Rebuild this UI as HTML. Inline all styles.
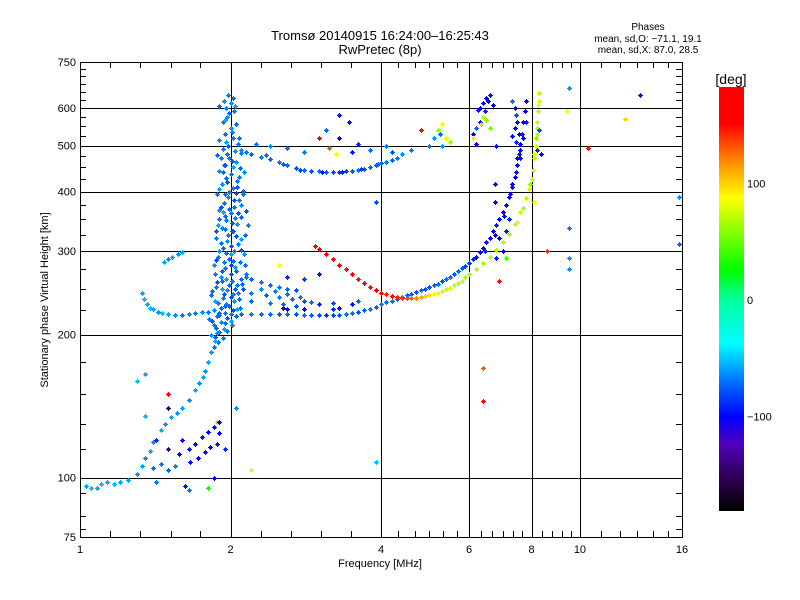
<!DOCTYPE html>
<html><head><meta charset="utf-8"><style>
body{margin:0;background:#fff}
svg{display:block;font-family:"Liberation Sans",sans-serif}
</style></head><body>
<svg id="chart" width="800" height="600" viewBox="0 0 800 600">
<rect width="800" height="600" fill="#fff"/>
<text x="380" y="40" font-size="13" text-anchor="middle">Tromsø 20140915 16:24:00–16:25:43</text>
<text x="380" y="54" font-size="13" text-anchor="middle">RwPretec (8p)</text>
<text x="648" y="30" font-size="10" text-anchor="middle">Phases</text>
<text x="648" y="42" font-size="10" text-anchor="middle">mean, sd,O: −71.1, 19.1</text>
<text x="648" y="53" font-size="10" text-anchor="middle">mean, sd,X:  87.0, 28.5</text>
<text x="380" y="567" font-size="11" text-anchor="middle">Frequency [MHz]</text>
<text transform="translate(48,300) rotate(-90)" font-size="11" text-anchor="middle">Stationary phase Virtual Height [km]</text>
<text x="731" y="84" font-size="14" text-anchor="middle">[deg]</text>
<g id="grid"></g>
<g id="pts"></g>
<g id="axes"></g>
<g id="cbar"></g>
</svg>
<script>
const xTicks=[1,2,4,6,8,10,16];
const yTicks=[75,100,200,300,400,500,600,750];
const xGrid=[2,4,6,8,10];
const yGrid=[100,200,300,400,500,600];
const xMinor=[1.15,1.32,1.52,1.74,2.3,2.64,3.03,3.48,4.33,4.67,5.0,5.33,5.67,6.33,6.67,7.0,7.33,7.67,8.4,8.8,9.2,9.6,11,12,13,14,15];
const yMinor=[78,83,93,115,130,150,175,225,250,275,325,350,375,425,450,475,525,550,575,625,650,675,700,725];
const cbTicks=[100,0,-100];
// traces: [freq MHz, height km, phase deg]
const oTrace=[[1.33,245,-45],[1.34,238,-40],[1.36,232,-45],[1.38,228,-40],[1.4,226,-45],[1.43,223,-50],[1.46,222,-40],[1.5,221,-45],[1.55,220,-50],[1.6,220,-55],[1.65,221,-50],[1.7,222,-55],[1.75,223,-50],[1.8,223,-55],[1.9,222,-60],[2.0,221,-55],[2.1,221,-60],[2.2,221,-55],[2.3,221,-60],[2.4,221,-60],[2.5,221,-65],[2.6,221,-70],[2.7,221,-65],[2.8,220,-70],[2.9,220,-75],[3.0,220,-80],[3.1,220,-85],[3.2,220,-80],[3.3,220,-75],[3.4,221,-70],[3.5,222,-70],[3.6,223,-65],[3.7,225,-60],[3.8,227,-55],[3.9,229,-60],[4.0,232,-55],[4.1,234,-60],[4.2,236,-55],[4.3,238,-60],[4.4,240,-55],[4.5,242,-60],[4.6,244,-60],[4.7,246,-65],[4.8,248,-60],[4.9,250,-65],[5.0,252,-65],[5.1,254,-60],[5.2,256,-70],[5.3,259,-65],[5.4,262,-70],[5.5,265,-70],[5.6,268,-75],[5.7,272,-70],[5.8,276,-75],[5.9,279,-80],[6.0,283,-85],[6.1,288,-90],[6.2,292,-95],[6.3,298,-95],[6.4,305,-100],[6.5,313,-95],[6.6,320,-100],[6.7,330,-100],[6.8,340,-95],[6.9,350,-100],[7.0,362,-105],[7.1,375,-100],[7.2,390,-100],[7.3,410,-95],[7.4,430,-100],[7.5,455,-100],[7.55,480,-95],[7.6,505,-100],[7.65,530,-95],[7.7,560,-100],[7.75,590,-105],[7.8,620,-100],[6.45,300,-90],[6.75,325,-105],[7.05,355,-95],[7.25,395,-105],[7.45,440,-95],[7.6,470,-105],[7.7,520,-100],[7.8,560,-95]];
const xTrace=[[2.95,308,170],[3.0,303,165],[3.1,296,160],[3.2,288,155],[3.3,281,160],[3.4,275,150],[3.5,268,155],[3.6,262,150],[3.7,257,155],[3.8,252,150],[3.9,248,155],[4.0,245,150],[4.1,243,145],[4.2,241,150],[4.3,240,145],[4.4,239,140],[4.5,239,135],[4.6,239,130],[4.7,239,120],[4.8,240,110],[4.9,241,100],[5.0,242,95],[5.1,243,90],[5.2,245,85],[5.3,247,80],[5.4,249,75],[5.5,251,80],[5.6,254,75],[5.7,257,70],[5.8,260,75],[5.9,264,70],[6.0,268,65],[6.2,275,70],[6.4,283,65],[6.6,292,70],[6.8,302,65],[7.0,313,70],[7.2,326,65],[7.4,342,70],[7.6,362,75],[7.8,388,70],[7.9,405,75],[8.0,425,70],[8.05,445,75],[8.1,470,70],[8.15,500,75],[8.2,530,70],[8.22,560,75],[8.25,590,70],[8.28,620,75],[8.3,645,70],[7.5,345,80],[7.7,370,65],[7.95,415,60],[8.1,480,80],[8.2,545,65],[8.25,610,80],[8.15,520,55]];
const upperF=[[2.1,490,-50],[2.15,485,-55],[2.2,480,-60],[2.3,474,-55],[2.4,468,-60],[2.5,462,-55],[2.6,455,-60],[2.7,448,-65],[2.8,445,-60],[2.9,443,-65],[3.0,442,-70],[3.1,441,-75],[3.2,441,-80],[3.3,441,-85],[3.4,442,-80],[3.5,442,-75],[3.6,444,-70],[3.7,447,-65],[3.8,451,-60],[3.9,455,-65],[4.0,459,-60],[4.1,462,-55],[4.2,466,-60],[4.3,472,-55],[4.4,479,-50],[4.6,490,-55],[2.25,505,-55],[2.4,500,-50],[2.6,495,-60],[2.8,485,-55],[3.5,485,-95],[3.6,505,-90],[3.8,490,-60],[4.1,500,-55],[4.2,485,-65],[5.0,500,-55],[5.1,520,-50],[5.2,540,60],[5.3,555,90],[5.4,520,80],[5.5,510,60],[5.3,500,-50],[5.25,530,-60],[4.8,540,150],[3.3,580,-95],[3.3,520,-100],[3.45,560,-95],[3.0,520,165],[3.1,540,-60],[3.15,495,130],[3.25,480,90],[2.35,478,-70],[2.55,458,-75],[2.75,444,-80],[3.05,440,-95],[3.35,440,-90],[3.65,446,-85],[3.95,457,-70]];
const column=[[1.98,640,-55],[2.02,630,-60],[2.0,615,-50],[1.96,600,-55],[1.9,605,-60],[2.03,590,-55],[1.97,575,-50],[1.93,560,-55],[2.05,555,-60],[2.0,545,-50],[1.95,530,-60],[2.02,520,-55],[1.9,515,-50],[2.07,505,-55],[1.98,500,-60],[1.93,492,-55],[2.04,488,-50],[2.1,482,-55],[1.88,478,-60],[1.99,470,-55],[2.05,462,-50],[1.94,455,-55],[2.09,448,-60],[1.9,442,-50],[2.0,436,-55],[1.96,428,-60],[2.06,422,-55],[1.92,415,-50],[2.02,408,-55],[2.12,402,-60],[1.88,396,-55],[1.98,390,-50],[2.08,384,-55],[1.94,378,-60],[2.03,372,-55],[1.9,366,-50],[2.0,360,-55],[2.1,354,-60],[1.96,348,-55],[2.06,342,-50],[1.92,336,-55],[2.01,330,-60],[2.14,325,-70],[1.87,320,-55],[1.97,315,-50],[2.07,310,-55],[1.93,305,-60],[2.03,300,-55],[2.13,296,-50],[1.89,292,-55],[1.99,288,-60],[2.09,284,-55],[1.85,280,-50],[1.95,276,-55],[2.05,272,-60],[2.15,268,-55],[1.91,264,-50],[2.01,260,-55],[2.11,256,-60],[1.87,252,-55],[1.97,248,-50],[2.07,245,-55],[1.83,242,-60],[1.93,239,-55],[2.03,236,-50],[1.89,233,-55],[1.99,230,-60],[2.09,228,-55],[1.85,225,-50],[1.95,222,-55],[2.05,219,-60],[1.81,216,-55],[1.91,213,-50],[2.01,210,-55],[1.87,207,-60],[1.97,204,-55],[1.83,200,-50],[1.93,197,-55],[1.89,193,-60],[1.85,188,-55],[1.95,455,-75],[2.05,398,-80],[1.9,350,-70],[2.0,280,-85],[1.95,230,-75],[2.08,520,-70],[1.97,420,-65],[2.02,330,-65],[1.92,260,-70],[1.94,620,-50],[2.04,605,-45],[1.99,585,-60],[1.95,565,-45],[2.01,535,-55],[1.96,510,-45],[1.91,470,-55],[2.02,450,-45],[2.08,430,-55],[1.9,405,-45],[1.99,400,-55],[2.1,375,-50],[1.93,362,-45],[2.04,352,-55],[1.89,340,-45],[1.98,325,-55],[2.1,318,-45],[1.9,300,-50],[2.0,295,-45],[1.94,285,-55],[2.04,278,-45],[1.86,268,-55],[1.96,262,-45],[2.06,255,-55],[1.92,250,-45],[2.02,243,-55],[1.86,236,-45],[1.96,232,-55],[2.06,226,-45],[1.9,220,-55],[2.0,214,-45],[1.85,210,-55],[1.94,206,-45],[2.12,395,-60],[2.15,365,-65],[2.17,340,-55],[2.13,440,-50]];
const column2=[[1.97,480,-70],[2.01,465,-65],[1.93,440,-70],[2.06,410,-65],[1.95,395,-70],[2.03,385,-75],[1.91,372,-65],[1.99,368,-70],[2.07,360,-65],[1.95,356,-70],[2.01,344,-75],[1.87,330,-65],[1.95,334,-70],[2.05,322,-65],[1.91,312,-70],[2.0,308,-75],[2.1,302,-65],[1.96,297,-70],[1.87,287,-65],[2.02,286,-70],[1.92,272,-75],[2.0,268,-65],[2.1,262,-70],[1.88,258,-65],[1.99,254,-70],[2.04,249,-75],[1.94,244,-65],[1.84,247,-70],[2.0,240,-65],[1.91,228,-70],[2.02,225,-65],[1.88,219,-70],[1.97,217,-75],[1.84,214,-65],[1.9,203,-70],[1.86,198,-65],[1.95,212,-70],[2.08,238,-70],[2.12,250,-65],[2.14,280,-70]];
const lowTrace=[[1.03,96,-45],[1.05,95,-40],[1.08,95,-45],[1.1,97,-40],[1.13,98,-45],[1.17,97,-40],[1.2,98,-45],[1.25,99,-45],[1.3,102,-50],[1.33,106,-45],[1.35,110,-50],[1.38,114,-45],[1.4,119,-50],[1.45,126,-45],[1.48,130,-50],[1.52,134,-45],[1.56,137,-50],[1.6,140,-45],[1.65,146,-50],[1.7,153,-45],[1.73,158,-50],[1.76,163,-45],[1.78,168,-50],[1.8,175,-45],[1.83,184,-50],[1.86,194,-45],[1.88,202,-50],[1.47,285,-45],[1.5,288,-50],[1.53,291,-45],[1.57,295,-50],[1.6,298,-45],[1.35,165,-45],[1.3,160,-40],[1.35,135,-40]];
const lowScatter=[[1.6,120,-100],[1.65,115,-95],[1.7,118,-100],[1.75,122,-95],[1.8,125,-100],[1.85,128,-95],[1.9,124,-100],[1.88,118,-95],[1.82,116,-100],[1.78,113,-95],[1.72,110,-100],[1.66,108,-95],[1.58,112,-100],[1.55,106,-55],[1.5,104,-60],[1.45,107,-55],[1.4,105,-60],[1.42,98,-55],[1.62,96,-95],[1.65,94,-55],[1.5,115,-140],[1.5,150,170],[1.5,140,-150],[1.42,120,-90],[1.85,100,-100],[1.8,95,30],[1.88,131,110],[1.9,131,-100],[2.05,140,-50],[2.2,104,80],[3.9,108,-40],[6.4,170,130],[6.4,145,160],[3.9,380,-80],[2.5,280,90],[1.95,115,-90]];
const hopScatter=[[2.15,265,-55],[2.2,262,-60],[2.3,258,-55],[2.4,255,-60],[2.5,252,-55],[2.6,250,-60],[2.7,248,-65],[2.2,245,-55],[2.35,242,-60],[2.5,240,-55],[2.65,238,-60],[2.8,236,-65],[2.9,234,-70],[2.3,250,-50],[2.45,247,-55],[2.6,243,-60],[2.75,240,-55],[2.2,235,-60],[2.4,233,-55],[2.55,232,-60],[2.7,230,-65],[3.0,232,-90],[3.2,233,-80],[3.3,228,-100],[3.5,232,-95],[3.6,235,-60],[2.6,265,-90],[2.8,262,-85],[3.0,268,-95],[2.55,228,-140],[2.6,226,-95],[2.8,226,-100],[3.2,226,-90],[3.5,222,-55]];
const highScatter=[[6.3,600,-100],[6.4,615,-95],[6.5,630,-100],[6.6,640,-95],[6.45,590,-90],[6.55,620,-100],[6.3,560,-95],[6.2,545,-60],[6.1,530,-100],[6.2,505,-105],[6.35,555,100],[6.4,575,70],[6.5,565,60],[6.6,545,55],[6.1,520,80],[6.25,595,-95],[6.7,610,-100],[6.8,500,-95],[6.75,415,-100],[6.75,380,-100],[7.3,620,-70],[7.4,600,-100],[7.5,560,-95],[7.55,530,-100],[7.45,510,-90],[7.6,490,-105],[7.5,470,-100],[7.3,525,-95],[7.4,545,-100],[7.45,580,-80],[7.3,415,-100],[7.2,350,-90],[7.1,330,-95],[7.0,300,-100],[6.8,290,-95],[6.9,320,-100],[8.3,540,-80],[8.2,490,-90],[8.1,380,90],[8.35,480,-100],[8.6,300,140],[9.5,660,-50],[9.4,590,90],[9.5,335,-55],[9.5,290,-50],[9.5,275,-50],[10.4,495,150],[12.3,570,100],[13.2,640,-110],[15.8,390,-50],[15.8,310,-70],[6.9,260,150],[7.1,290,40]];

function X(f){return 80+150.5*Math.log2(f);}
function Y(h){return 537-475*Math.log10(h/75);}
const stops=[[-180,0,0,0],[-150,50,0,90],[-122,80,0,192],[-100,0,0,255],[-70,0,110,255],[-37,0,255,255],[0,0,255,160],[26,0,255,0],[88,255,255,0],[111,255,170,0],[152,255,0,0],[181,255,0,0]];
function col(p){p=Math.max(-180,Math.min(180,p));for(let i=0;i<stops.length-1;i++){const a=stops[i],b=stops[i+1];if(p>=a[0]&&p<=b[0]){const t=(p-a[0])/(b[0]-a[0]);return`rgb(${Math.round(a[1]+t*(b[1]-a[1]))},${Math.round(a[2]+t*(b[2]-a[2]))},${Math.round(a[3]+t*(b[3]-a[3]))})`;}}return'red';}
// points are drawn slightly darker than the bar (same hue family) to match the dense blue look
function ptCol(p){return col(p<-30&&p>-70?p-12:p);}
const NS='http://www.w3.org/2000/svg';
function mk(tag,attrs,parent){const e=document.createElementNS(NS,tag);for(const k in attrs)e.setAttribute(k,attrs[k]);parent.appendChild(e);return e;}
const grid=document.getElementById('grid'),axes=document.getElementById('axes'),pts=document.getElementById('pts'),cbar=document.getElementById('cbar');
xGrid.forEach(f=>{const x=Math.round(X(f))+0.5;const l=mk('line',{x1:x,x2:x,y1:62,y2:537,stroke:'#000','stroke-width':1},grid);

});
yGrid.forEach(h=>{const y=Math.round(Y(h))+0.5;const l=mk('line',{x1:80,x2:682,y1:y,y2:y,stroke:'#000','stroke-width':1},grid);

});
function drawSet(arr,name){arr.forEach(d=>{const x=Math.round(X(d[0])),y=Math.round(Y(d[1]));const p=mk('path',{d:`M${x-2} ${y}h5v1h-5zM${x} ${y-2}h1v5h-1zM${x-1} ${y-1}h3v3h-3z`,fill:ptCol(d[2]),'shape-rendering':'crispEdges'},pts);

});}
drawSet(column,'column-echo');drawSet(column2,'column-echo');drawSet(lowTrace,'low-trace-echo');drawSet(lowScatter,'low-scatter-echo');drawSet(hopScatter,'hop-scatter-echo');drawSet(upperF,'upper-f-echo');drawSet(oTrace,'o-trace-echo');drawSet(xTrace,'x-trace-echo');drawSet(highScatter,'high-scatter-echo');
const frame=mk('rect',{x:80.5,y:62.5,width:602,height:475,fill:'none',stroke:'#000','stroke-width':1},axes);


xMinor.forEach(f=>{const x=Math.round(X(f))+0.5;mk('path',{d:`M${x} 537V531M${x} 62V68`,stroke:'#000'},axes);});
yMinor.forEach(h=>{const y=Math.round(Y(h))+0.5;mk('path',{d:`M80 ${y}H86M682 ${y}H676`,stroke:'#000'},axes);});
xTicks.forEach(f=>{const x=X(f);mk('path',{d:`M${Math.round(x)+0.5} 537V527M${Math.round(x)+0.5} 62V72`,stroke:'#000'},axes);const t=mk('text',{x:x,y:553,'font-size':11,'text-anchor':'middle'},axes);t.textContent=f;

});
yTicks.forEach(h=>{const y=Y(h);mk('path',{d:`M80 ${Math.round(y)+0.5}H90M682 ${Math.round(y)+0.5}H672`,stroke:'#000'},axes);const t=mk('text',{x:76,y:y+4,'font-size':11,'text-anchor':'end'},axes);t.textContent=h;

});
for(let y=87;y<511;y++){const p=(300-y)/1.167;mk('rect',{x:719,y:y,width:25,height:1,fill:col(p)},cbar);}
cbTicks.forEach(v=>{const y=300-1.167*v;const t=mk('text',{x:747,y:y+4,'font-size':11},cbar);t.textContent=v===-100?'−100':v;

});
</script>
</body></html>
